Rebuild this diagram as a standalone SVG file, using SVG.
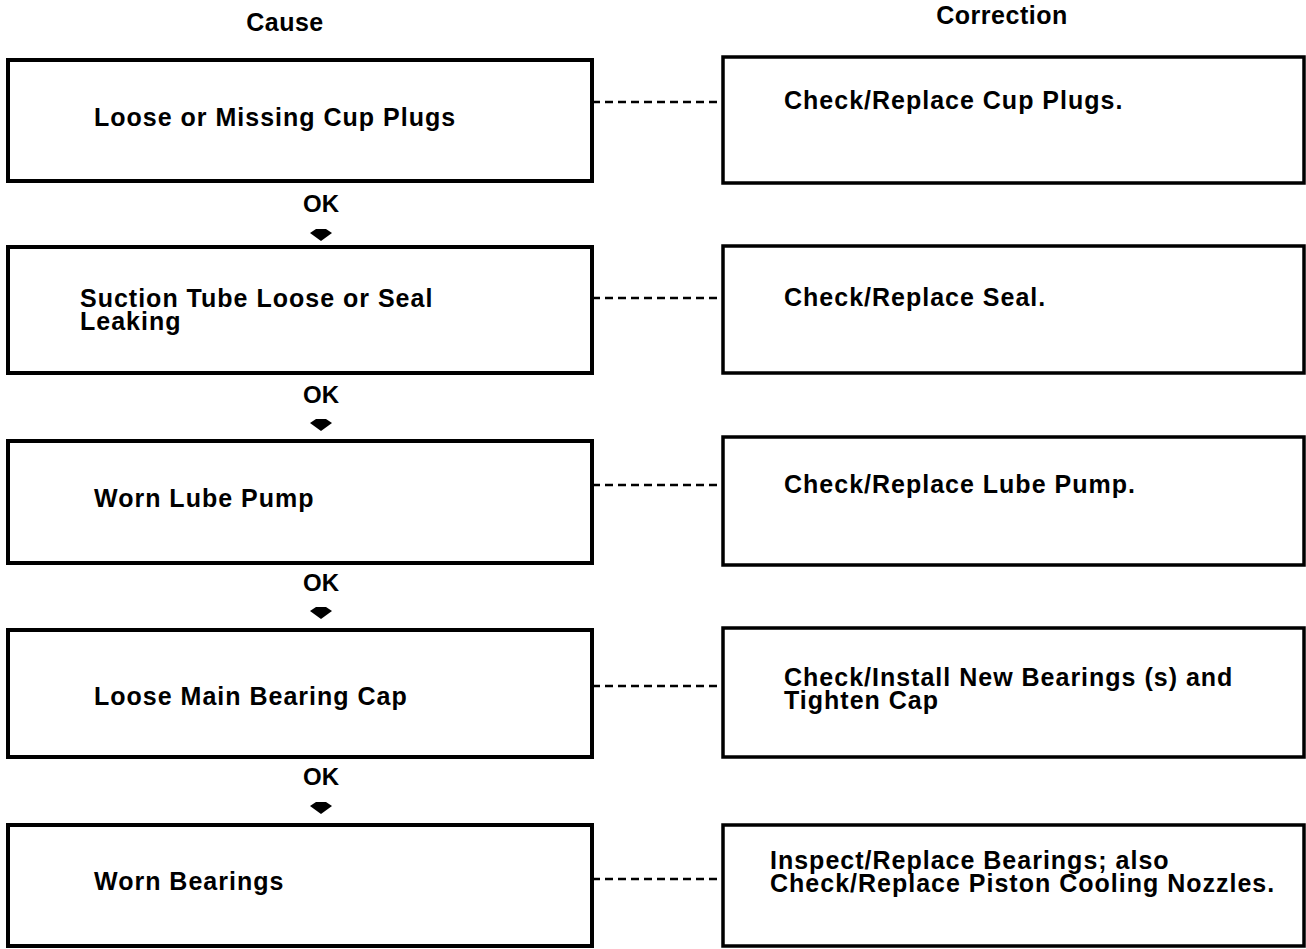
<svg xmlns="http://www.w3.org/2000/svg" width="1306" height="949" viewBox="0 0 1306 949">
<style>
.bx{fill:#fff;stroke:#000;stroke-width:4}
.bxr{fill:#fff;stroke:#000;stroke-width:3.5}
.t{font-family:"Liberation Sans",Arial,sans-serif;font-weight:bold;font-size:25px;letter-spacing:1px;fill:#000}
.h{font-family:"Liberation Sans",Arial,sans-serif;font-weight:bold;font-size:25px;letter-spacing:0.5px;fill:#000}
.ok{font-family:"Liberation Sans",Arial,sans-serif;font-weight:bold;font-size:24px;fill:#000;text-anchor:middle}
.dash{stroke:#000;stroke-width:2.5;stroke-dasharray:8 5;fill:none}
</style>
<defs>
<path id="dia" d="M -11 -2 L -5 -6 L 5 -6 L 11 -2 L 0 6 Z" fill="#000"/>
</defs>
<rect width="1306" height="949" fill="#fff"/>
<g id="headers">
<text class="h" x="285" y="31" text-anchor="middle">Cause</text>
<text class="h" x="1002" y="24" text-anchor="middle">Correction</text>
</g>
<g id="connectors">
<line class="dash" x1="592" y1="102" x2="723" y2="102"/>
<line class="dash" x1="592" y1="298" x2="723" y2="298"/>
<line class="dash" x1="592" y1="485" x2="723" y2="485"/>
<line class="dash" x1="592" y1="686" x2="723" y2="686"/>
<line class="dash" x1="592" y1="879" x2="723" y2="879"/>
<text class="ok" x="321" y="212">OK</text>
<use href="#dia" x="321" y="235"/>
<text class="ok" x="321" y="403">OK</text>
<use href="#dia" x="321" y="425"/>
<text class="ok" x="321" y="591">OK</text>
<use href="#dia" x="321" y="613"/>
<text class="ok" x="321" y="785">OK</text>
<use href="#dia" x="321" y="808"/>
</g>
<g id="cause1"><rect class="bx" x="8" y="60" width="584" height="121"/><text class="t" x="94" y="126">Loose or Missing Cup Plugs</text></g>
<g id="cause2"><rect class="bx" x="8" y="247" width="584" height="126"/><text class="t" x="80" y="307">Suction Tube Loose or Seal</text><text class="t" x="80" y="330">Leaking</text></g>
<g id="cause3"><rect class="bx" x="8" y="441" width="584" height="122"/><text class="t" x="94" y="507">Worn Lube Pump</text></g>
<g id="cause4"><rect class="bx" x="8" y="630" width="584" height="127"/><text class="t" x="94" y="705">Loose Main Bearing Cap</text></g>
<g id="cause5"><rect class="bx" x="8" y="825" width="584" height="121"/><text class="t" x="94" y="890">Worn Bearings</text></g>
<g id="corr1"><rect class="bxr" x="723" y="57" width="581" height="126"/><text class="t" x="784" y="109">Check/Replace Cup Plugs.</text></g>
<g id="corr2"><rect class="bxr" x="723" y="246" width="581" height="127"/><text class="t" x="784" y="306">Check/Replace Seal.</text></g>
<g id="corr3"><rect class="bxr" x="723" y="437" width="581" height="128"/><text class="t" x="784" y="493">Check/Replace Lube Pump.</text></g>
<g id="corr4"><rect class="bxr" x="723" y="628" width="581" height="129"/><text class="t" x="784" y="686">Check/Install New Bearings (s) and</text><text class="t" x="784" y="709">Tighten Cap</text></g>
<g id="corr5"><rect class="bxr" x="723" y="825" width="581" height="121"/><text class="t" x="770" y="869">Inspect/Replace Bearings; also</text><text class="t" x="770" y="892">Check/Replace Piston Cooling Nozzles.</text></g>
</svg>
